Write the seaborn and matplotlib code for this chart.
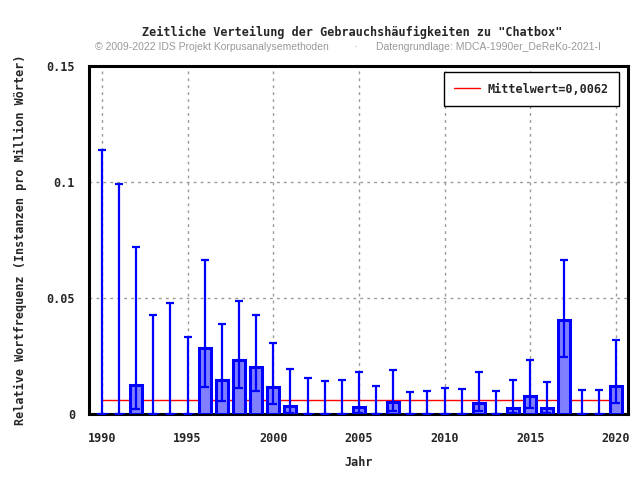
import numpy as np
import pandas as pd
import matplotlib
matplotlib.use("Agg")
import matplotlib.pyplot as plt
from matplotlib.ticker import MultipleLocator
import seaborn as sns

# values
years = list(range(1990, 2021))
freq = [0, 0, 0.0126, 0, 0, 0, 0.0283, 0.0148, 0.0234, 0.0204,
        0.0118, 0.0036, 0, 0, 0, 0.0031, 0, 0.0053, 0, 0,
        0, 0, 0.0049, 0, 0.0027, 0.0079, 0.0027, 0.0406, 0, 0,
        0.0122]
err_low = [0, 0, 0.0022, 0, 0, 0, 0.0118, 0.0056, 0.0112, 0.0099,
           0.0044, 0.0006, 0, 0, 0, 0.0004, 0, 0.0014, 0, 0,
           0, 0, 0.0014, 0, 0.0003, 0.0027, 0.0003, 0.0247, 0, 0,
           0.0049]
err_high = [0.1139, 0.0993, 0.0721, 0.0428, 0.0480, 0.0333, 0.0665, 0.0388, 0.0488, 0.0427,
            0.0306, 0.0194, 0.0155, 0.0144, 0.0148, 0.0182, 0.0121, 0.0190, 0.0095, 0.0100,
            0.0112, 0.0108, 0.0181, 0.0099, 0.0147, 0.0234, 0.0138, 0.0664, 0.0103, 0.0103,
            0.0320]
mean_val = 0.0062

df = pd.DataFrame({"year": years, "freq": freq, "lo": err_low, "hi": err_high})

sns.set_style("white")
mono = ["DejaVu Sans Mono"]
sans = ["Liberation Sans", "DejaVu Sans"]

fig = plt.figure(figsize=(6.4, 4.8), dpi=100)
ax = fig.add_axes([0.139, 0.1375, 0.842, 0.725])

sns.barplot(data=df, x="year", y="freq", native_scale=True, width=0.7,
            color="#8080ff", edgecolor="#0000ff", linewidth=2.2,
            saturation=1, errorbar=None, ax=ax, zorder=3)

yerr = np.array([df["freq"] - df["lo"], df["hi"] - df["freq"]])
ax.errorbar(df["year"], df["freq"], yerr=yerr, fmt="none", ecolor="#0000ff",
            elinewidth=1.6, capsize=2.8, capthick=1.6, zorder=4)

ax.plot([years[0], years[-1]], [mean_val, mean_val], color="red", lw=1,
        label="Mittelwert=0,0062", zorder=2)

ax.set_xlim(1989.24, 2020.7)
ax.set_ylim(0, 0.15)
ax.xaxis.set_minor_locator(MultipleLocator(1))
ax.yaxis.set_minor_locator(MultipleLocator(0.01))
ax.set_xticks([1990, 1995, 2000, 2005, 2010, 2015, 2020])
ax.set_xticklabels(["1990", "1995", "2000", "2005", "2010", "2015", "2020"],
                   family=mono, fontweight="bold", fontsize=8.5)
ax.set_yticks([0, 0.05, 0.1, 0.15])
ax.set_yticklabels(["0", "0.05", "0.1", "0.15"], family=mono,
                   fontweight="bold", fontsize=8.5)
ax.tick_params(which="major", direction="out", length=6, width=2, pad=7, color="black")
ax.tick_params(which="minor", direction="out", length=4, width=1.5, color="black")
ax.tick_params(axis="y", which="major", pad=4)
ax.grid(True, which="major", color="#999999", ls=(0, (2, 3)), lw=1, zorder=0)
ax.set_axisbelow(True)
for s in ax.spines.values():
    s.set_linewidth(2.2)
    s.set_color("black")

ax.set_xlabel("Jahr", family=mono, fontweight="bold", fontsize=8.5, labelpad=8)
ax.set_ylabel("Relative Wortfrequenz (Instanzen pro Million Wörter)", family=mono,
              fontweight="bold", fontsize=8.5, labelpad=14)

leg = ax.legend(loc="upper right", prop={"family": mono, "weight": "bold", "size": 8.5},
                fancybox=False, framealpha=1, edgecolor="black", borderpad=0.9,
                handlelength=2.2, handletextpad=0.6, borderaxespad=0.5,
                bbox_to_anchor=(0.995, 1.0))
leg.get_frame().set_linewidth(1)

fig.text(0.55, 0.925, 'Zeitliche Verteilung der Gebrauchshäufigkeiten zu "Chatbox"',
         ha="center", family=mono, fontweight="bold", fontsize=8.5)
fig.text(0.149, 0.896, "© 2009-2022 IDS Projekt Korpusanalysemethoden", ha="left",
         family=sans, color="#999999", fontsize=7.5)
fig.text(0.556, 0.896, "·", ha="center", family=sans, color="#999999", fontsize=7.5)
fig.text(0.5875, 0.896, "Datengrundlage: MDCA-1990er_DeReKo-2021-I", ha="left",
         family=sans, color="#999999", fontsize=7.5)

fig.savefig("out.png", dpi=100)
